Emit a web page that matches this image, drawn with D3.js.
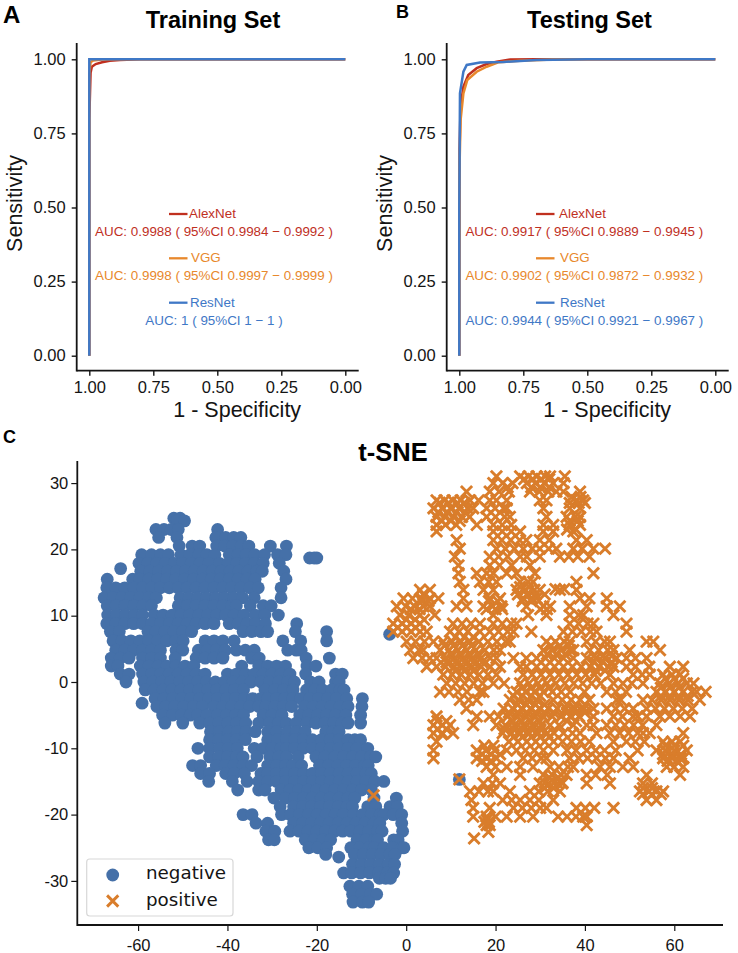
<!DOCTYPE html>
<html><head><meta charset="utf-8">
<script src="https://cdn.jsdelivr.net/npm/d3@7"></script>
<style>html,body{margin:0;background:#fff}svg{display:block}text{font-family:"Liberation Sans",Arial,sans-serif}</style>
</head><body><svg id="c" width="738" height="953"></svg>
<script>
const seriesNames = ["AlexNet","VGG","ResNet"];
const seriesColors = ["#c0301f","#e8882c","#3f78c6"];
const rocTicks = [1,0.75,0.5,0.25,0];
const trainAlex = [[1,0],[1,0.8],[0.995,0.955],[0.99,0.975],[0.975,0.984],[0.95,0.99],[0.92,0.995],[0.88,0.998],[0.8,1],[0,1]];
const trainVgg = [[1,0],[1,0.95],[0.995,0.99],[0.985,0.996],[0.95,0.999],[0.9,1],[0,1]];
const trainRes = [[1,0],[1,1],[0,1]];
const testAlex = [[1,0],[1,0.3],[0.999,0.694],[0.995,0.84],[0.984,0.908],[0.965,0.947],[0.932,0.97],[0.893,0.984],[0.854,0.992],[0.802,0.999],[0.7,1],[0,1]];
const testVgg = [[1,0],[0.999,0.638],[0.995,0.795],[0.984,0.885],[0.969,0.93],[0.932,0.958],[0.893,0.975],[0.848,0.99],[0.763,0.9955],[0.633,0.999],[0.5,1],[0,1]];
const testRes = [[1,0],[1,0.5],[0.9974,0.885],[0.984,0.958],[0.971,0.981],[0.919,0.989],[0.828,0.991],[0.698,0.998],[0.5,1],[0,1]];
const trainAuc = ["AUC: 0.9988 ( 95%CI 0.9984 − 0.9992 )","AUC: 0.9998 ( 95%CI 0.9997 − 0.9999 )","AUC: 1 ( 95%CI 1 − 1 )"];
const testAuc = ["AUC: 0.9917 ( 95%CI 0.9889 − 0.9945 )","AUC: 0.9902 ( 95%CI 0.9872 − 0.9932 )","AUC: 0.9944 ( 95%CI 0.9921 − 0.9967 )"];
const tsneXTicks = [-60,-40,-20,0,20,40,60];
const tsneYTicks = [-30,-20,-10,0,10,20,30];
// t-SNE rows: [y, [x, x, ...]]
const negativeRows = [
[24.7,[-52.0,-50.6]],[24.3,[-51.2,-49.6]],
[23.0,[-56.0,-54.2,-52.6,-51.0,-42.2]],
[21.8,[-55.4,-51.3,-42.6,-40.4,-38.6,-37.0]],
[20.5,[-50.8,-47.9,-46.2,-42.4,-40.6,-38.8,-36.9,-35.2,-30.4,-26.8]],
[19.2,[-59.2,-57.0,-55.0,-53.2,-50.4,-48.4,-46.4,-44.6,-42.8,-39.6,-37.6,-35.8,-33.9,-31.7,-28.8,-26.9]],
[18.7,[-21.6,-20.6,-20.0]],
[17.9,[-59.8,-57.8,-55.8,-53.9,-51.9,-50.0,-48.1,-46.1,-44.2,-41.8,-39.8,-37.9,-35.9,-34.0,-32.0,-28.4]],
[17.1,[-63.9]],
[16.7,[-59.4,-57.4,-55.4,-53.4,-51.4,-49.4,-47.4,-45.4,-43.4,-41.4,-39.4,-37.4,-35.4,-33.4,-32.2,-27.4]],
[15.5,[-66.9,-61.2,-59.6,-57.6,-55.6,-53.6,-51.6,-49.6,-47.6,-45.6,-43.6,-41.6,-39.6,-37.6,-35.6,-33.8,-26.9]],
[14.2,[-67.0,-65.0,-63.0,-61.0,-59.0,-57.0,-55.0,-53.0,-51.0,-49.0,-47.0,-45.0,-43.0,-41.0,-39.0,-37.0,-35.0,-33.1,-28.0]],
[12.7,[-67.6,-65.6,-63.6,-61.6,-59.6,-57.6,-55.9,-50.6,-48.6,-46.6,-44.6,-42.6,-40.6,-38.6,-36.6,-34.0,-28.0]],
[11.5,[-66.9,-64.9,-62.9,-60.9,-58.9,-57.0,-51.0,-49.0,-47.0,-45.0,-43.0,-41.0,-39.0,-38.0,-34.9,-32.0,-30.2]],
[10.1,[-66.8,-64.8,-62.8,-60.8,-59.0,-56.4,-54.4,-52.4,-50.4,-48.4,-46.4,-44.4,-42.4,-40.4,-38.5,-36.3,-33.8,-31.6,-28.6]],
[8.8,[-67.0,-65.0,-63.0,-61.0,-59.0,-57.0,-55.0,-53.0,-51.0,-49.0,-47.0,-45.0,-43.0,-39.6,-37.6,-35.6,-33.7,-31.5,-24.5]],
[7.6,[-66.2,-64.2,-57.8,-56.0,-54.0,-52.0,-50.0,-48.0,-36.5,-34.5,-32.5,-31.0,-24.8,-17.8]],
[6.2,[-65.6,-63.6,-61.6,-59.6,-57.6,-55.6,-53.6,-51.6,-49.9,-45.0,-43.0,-41.0,-38.5,-27.6,-23.6,-17.8]],
[4.8,[-65.0,-63.0,-61.0,-59.0,-57.0,-55.0,-51.5,-50.0,-46.5,-44.5,-42.5,-40.5,-38.0,-36.0,-34.0,-26.5,-24.6,-23.5]],
[3.6,[-66.0,-64.0,-62.0,-59.0,-57.0,-55.0,-51.7,-47.0,-45.0,-43.0,-41.0,-34.6,-32.9,-22.4,-17.2]],
[2.4,[-66.0,-64.5,-59.5,-57.5,-55.5,-53.5,-51.5,-49.5,-47.5,-36.8,-33.0,-31.0,-29.0,-27.0,-22.2,-20.2]],
[1.2,[-64.0,-62.0,-59.0,-57.0,-55.0,-53.0,-51.0,-49.0,-47.0,-45.0,-40.0,-38.0,-36.0,-34.0,-32.0,-30.0,-28.0,-26.0,-22.5,-15.8,-14.3]],
[0.0,[-62.7,-58.7,-56.7,-54.7,-52.7,-50.7,-48.7,-46.7,-44.7,-42.7,-40.7,-38.7,-36.7,-34.7,-32.5,-30.5,-28.5,-26.5,-25.0,-21.4,-19.5,-15.8,-15.0]],
[-1.2,[-58.4,-56.4,-54.4,-52.4,-50.4,-48.4,-46.4,-44.4,-42.4,-40.4,-38.4,-36.4,-31.6,-29.4,-27.4,-25.3,-22.3,-20.4,-18.7,-16.7,-14.8,-13.9]],
[-2.5,[-56.2,-54.2,-52.2,-50.2,-48.2,-46.2,-44.2,-42.2,-40.2,-38.2,-36.2,-34.4,-32.6,-31.0,-29.0,-27.2,-25.4,-23.6,-21.6,-19.6,-17.6,-15.6,-13.3,-9.8]],
[-3.2,[-59.1]],
[-3.7,[-55.8,-53.8,-51.8,-49.8,-47.6,-45.6,-43.0,-41.0,-39.0,-37.0,-35.0,-33.0,-31.4,-29.4,-27.5,-25.6,-22.8,-20.8,-18.8,-16.8,-14.8,-13.0,-9.9]],
[-5.0,[-54.5,-52.3,-50.3,-48.3,-46.6,-44.6,-42.2,-40.2,-38.2,-36.4,-32.0,-30.0,-27.8,-23.8,-21.8,-19.8,-17.8,-15.8,-13.5,-10.2]],
[-6.2,[-54.0,-50.0,-46.2,-44.0,-41.9,-39.9,-37.9,-35.9,-33.0,-30.6,-28.6,-26.8,-24.6,-22.2,-20.2,-18.2,-16.2,-14.4,-13.0,-10.2]],
[-7.5,[-43.8,-41.8,-39.8,-37.8,-35.8,-33.8,-31.0,-29.0,-26.6,-24.6,-22.6,-18.0,-16.4,-15.0]],
[-8.7,[-44.0,-42.0,-40.0,-38.0,-36.0,-31.0,-28.8,-26.8,-25.0,-23.0,-21.0,-19.0,-17.0,-15.0,-13.0,-11.5,-10.2]],
[-10.0,[-46.6,-44.0,-41.8,-39.8,-37.8,-34.0,-32.0,-30.0,-28.0,-26.8,-25.0,-23.0,-21.0,-19.0,-17.0,-15.0,-13.0,-11.0,-8.6]],
[-11.3,[-44.0,-42.0,-40.0,-38.0,-36.5,-33.4,-30.5,-28.5,-26.8,-24.2,-20.2,-18.2,-16.0,-14.0,-12.0,-10.0,-8.0,-6.8]],
[-12.6,[-47.8,-46.0,-42.5,-40.5,-38.5,-36.5,-34.6,-31.0,-29.0,-27.0,-25.4,-23.4,-19.4,-17.4,-15.3,-13.3,-11.3,-9.3,-8.5]],
[-13.8,[-46.0,-44.0,-40.4,-38.5,-36.2,-32.5,-31.0,-29.0,-27.0,-25.0,-23.0,-21.0,-19.0,-17.0,-15.0,-13.0,-11.0,-9.0,-7.8]],
[-15.0,[-44.2,-38.9,-35.6,-33.0,-31.0,-29.0,-27.0,-25.0,-23.0,-21.0,-19.0,-17.0,-15.0,-13.0,-11.0,-9.0,-7.0,-5.0]],
[-16.3,[-37.7,-33.0,-31.6,-28.0,-26.0,-24.0,-22.0,-20.0,-18.0,-16.0,-14.0,-12.0,-10.0,-7.8]],
[-17.5,[-29.6,-27.0,-25.0,-23.0,-21.0,-19.0,-17.0,-15.0,-13.0,-11.5,-7.2,-2.2]],
[-18.8,[-28.2,-25.2,-23.2,-21.2,-19.2,-17.2,-15.2,-13.2,-12.0,-8.6,-6.8,-3.6,-2.0]],
[-20.0,[-36.5,-34.5,-27.9,-25.9,-23.9,-21.9,-19.9,-17.9,-15.9,-14.1,-11.8,-9.8,-7.8,-5.8,-5.0,-2.9,-1.0]],
[-21.3,[-33.6,-31.0,-25.2,-23.2,-21.2,-19.2,-17.2,-15.2,-13.2,-11.2,-9.2,-7.2,-5.9,-1.0]],
[-22.5,[-31.4,-29.4,-26.0,-24.0,-22.0,-20.0,-18.0,-16.0,-14.2,-12.4,-10.4,-8.4,-6.4,-5.4,-0.8]],
[-23.8,[-30.8,-29.5,-22.6,-20.6,-18.6,-16.9,-11.0,-9.0,-7.0,-6.4,-2.8,-1.8]],
[-25.0,[-21.8,-19.8,-17.8,-12.4,-10.4,-8.4,-7.2,-5.0,-3.0,-1.0,-0.5]],
[-26.0,[-18.0,-11.6,-9.6,-7.6,-5.6,-3.6,-2.5]],
[-26.4,[-15.1]],
[-27.5,[-12.0,-10.0,-8.0,-6.0,-4.0,-2.6]],
[-28.8,[-14.0,-12.2,-10.2,-8.2,-6.2,-4.2,-2.8]],
[-29.6,[-6.0,-4.6,-3.5]],
[-30.8,[-12.6,-10.6,-8.6]],
[-32.0,[-12.0,-10.0,-8.0,-6.6]],
[-33.2,[-11.9,-9.8,-8.4]],
[7.2,[-3.7]],[-14.7,[11.9]]
];
const positiveRows = [
[31.0,[20.2,25.5,27.4,29.2,31.1,32.2,35.5]],
[30.0,[19.5,21.6,23.8,27.0,29.0,31.0,32.9,35.2]],
[28.7,[13.5,18.7,20.8,23.0,27.7,29.8,31.8,33.6,35.2,38.9]],
[27.4,[6.8,8.6,10.4,12.2,14.3,16.2,18.7,20.2,22.5,29.9,31.4,38.1,39.6]],
[26.2,[6.1,8.0,9.9,11.8,13.7,15.0,18.0,19.9,21.8,22.5,30.7,36.6,38.9]],
[24.9,[6.8,8.7,10.6,12.5,14.2,18.0,20.0,22.0,23.2,31.4,35.9,37.9,38.9]],
[23.7,[6.8,8.8,11.2,15.8,19.5,21.5,23.5,30.7,32.9,36.6,38.9]],
[22.7,[6.8,19.5,21.5,23.5,25.5,30.7,32.9,37.4]],
[21.4,[11.3,19.5,21.4,23.4,25.4,26.9,29.9,32.0,38.1,40.4]],
[20.1,[12.0,20.2,22.2,24.2,26.2,28.2,29.9,31.9,33.6,37.4,39.4,41.9,44.5]],
[18.9,[10.9,18.7,20.7,22.7,25.5,27.0,29.9,34.4,36.4,38.4,41.0]],
[17.6,[11.7,18.7,20.9,23.6,27.7]],
[16.4,[11.7,15.8,18.0,19.5,22.5,24.7,28.8,41.9]],
[15.1,[12.0,16.5,18.5,20.2,25.5,27.3,28.4,38.1]],
[13.9,[3.1,5.3,12.8,17.3,19.5,24.7,26.7,28.7,29.9,34.4,38.1]],
[12.6,[-0.6,1.4,3.4,5.3,7.2,12.8,18.7,21.0,26.2,28.2,29.2,38.9,41.0,44.9]],
[11.4,[-2.1,-0.1,1.9,3.9,5.3,11.3,13.5,17.3,19.3,21.3,26.9,30.7,32.2,36.6,40.4,44.9,47.8]],
[10.1,[-1.4,0.6,3.1,6.4,19.5,27.3,31.4,36.6,38.6,39.6,46.4]],
[8.8,[-2.9,-0.9,1.1,3.1,10.5,12.5,14.5,16.5,19.5,21.5,23.5,24.7,36.6,38.6,40.6,41.9,49.3]],
[7.6,[-2.9,-0.9,1.1,3.1,4.6,9.8,11.8,13.8,16.5,18.7,20.7,22.7,24.0,28.0,35.2,37.2,39.2,41.2,42.6,49.3]],
[6.1,[0.1,2.1,4.1,6.1,8.3,10.3,12.3,14.3,16.3,18.3,20.3,22.3,23.2,31.4,33.4,35.4,36.6,40.4,42.4,44.4,45.6,53.8,55.3]],
[4.8,[0.9,2.9,3.8,7.6,9.6,11.6,13.6,15.6,17.6,19.6,21.0,30.7,32.7,34.7,36.7,37.4,41.1,43.1,45.1,46.4,50.0,56.8]],
[3.6,[1.6,3.6,5.3,6.8,8.8,10.8,12.8,14.8,16.8,18.8,20.2,24.0,26.9,29.2,31.2,33.2,35.2,37.4,40.4,42.4,44.4,47.1,49.3,51.3,53.8]],
[2.3,[4.6,6.8,8.8,10.8,12.8,14.8,16.8,18.8,21.0,25.5,26.9,29.2,31.2,33.2,35.2,37.2,39.2,41.2,43.2,45.2,46.4,49.3,51.3,54.4,59.0,62.0]],
[1.1,[8.3,10.3,12.3,14.3,16.3,18.3,20.2,26.2,28.2,30.2,32.2,34.2,36.2,38.2,40.2,42.2,45.6,50.8,52.8,54.5,57.5,59.5,61.3]],
[-0.2,[9.1,11.1,13.1,15.1,17.1,19.5,21.9,25.5,27.5,29.5,31.5,33.5,35.5,37.5,39.5,41.5,43.5,46.4,48.5,50.5,53.0,56.8,58.8,60.8,62.8,64.3]],
[-1.5,[7.6,9.6,11.6,13.6,16.5,17.3,24.7,26.7,28.7,30.7,32.7,34.7,36.7,39.9,44.9,46.9,49.2,56.0,58.0,60.0,62.0,64.0,65.0,67.0]],
[-2.7,[12.0,14.0,15.8,23.2,25.2,27.2,29.2,32.9,34.9,36.9,38.9,41.0,47.1,48.0,53.0,55.0,57.0,59.0,61.0,63.0,65.7]],
[-4.0,[13.5,21.8,23.8,25.8,27.8,29.8,31.8,33.8,35.8,37.8,39.8,41.9,44.9,46.9,48.9,50.8,53.8,55.8,57.8,59.8,61.8,64.0]],
[-5.2,[6.8,15.8,18.7,20.7,22.7,24.7,26.7,28.7,30.7,32.7,34.7,36.7,38.7,41.9,46.4,48.4,50.8,51.8,53.8,56.8,59.0,61.3,63.5]],
[-6.5,[6.1,8.1,9.8,15.0,20.2,22.2,24.2,26.2,28.2,30.2,32.2,34.2,37.4,40.4,41.9,44.9,46.9,48.9,50.9,52.9,56.0]],
[-7.7,[6.1,8.1,10.5,21.6,23.6,25.6,27.6,29.6,31.6,33.1,35.2,37.2,38.9,42.6,45.6,47.8,49.8,51.8,53.0,54.5,62.0]],
[-9.0,[6.8,23.0,25.0,27.0,29.0,31.0,33.0,35.0,37.0,39.0,41.0,46.4,49.3,51.3,53.3,57.5,59.5,61.3]],
[-10.3,[6.1,15.8,17.8,19.8,22.5,24.7,26.7,28.7,30.7,32.9,36.0,38.0,40.4,42.4,44.4,46.9,51.8,56.0,58.0,60.0,62.8]],
[-11.5,[6.1,15.8,18.0,20.2,26.2,28.2,30.2,31.4,36.6,38.6,40.6,42.6,44.6,46.4,50.0,57.5,59.5,61.3,62.0]],
[-12.8,[18.0,20.0,22.5,25.5,28.4,32.2,34.2,36.2,37.4,43.4,45.6,48.5,50.8,58.3,60.0,62.0]],
[-14.0,[19.5,25.5,30.7,32.7,34.7,35.9,40.4,42.4,45.0,53.8,61.3]],
[-15.3,[17.3,19.3,21.0,29.9,31.9,33.9,34.9,40.4,45.6,53.0,55.0]],
[-16.5,[14.3,16.3,18.3,19.5,23.2,27.7,29.7,31.7,34.4,52.3,54.3,56.0,57.5]],
[-17.8,[14.6,21.6,23.6,25.5,27.7,29.7,32.9,53.8,56.0]],
[-19.0,[15.0,18.7,24.0,26.0,28.0,30.0,31.4,38.1,40.1,42.1,46.4]],
[-20.3,[15.0,18.0,20.0,22.5,25.5,28.4,34.0,36.0,38.0,39.6,40.4]],
[-21.6,[18.0,18.7,40.4]],
[-22.6,[18.4]],
[-23.6,[15.2]],
[-17.1,[-7.3]],[-14.7,[11.9]]
];
const positiveDenseRows = [
[30.6,[26.4,28.3,30.2,32.0]],[29.4,[22.7,28.0,30.0,32.0]],[27.9,[37.0,39.0]],
[27.0,[7.5,9.5,11.5,13.0,36.6,38.6,40.0]],[25.6,[7.2,9.2,11.2,13.2]],[24.3,[8.0,10.0,12.0,36.6,38.4]],[23.0,[36.0,38.0]],
[14.3,[25.5,27.5]],[14.0,[33.4,35.4]],[13.2,[25.0,27.0,29.0,31.0,3.8]],[12.2,[18.5,20.5,26.0,28.0,3.5,5.0]],
[11.0,[1.0,3.0,18.0,20.0,21.5,30.0,31.5]],[9.4,[0.0,2.0,4.0]],[8.2,[-1.9,0.1,2.1]],
[6.8,[11.0,13.0,15.0]],[5.5,[8.6,10.6,12.6,14.6,32.4,34.4,36.4]],[4.2,[10.0,12.0,14.0,16.0,31.5,33.5,35.5]],
[3.9,[42.0,44.0,46.0]],[3.0,[9.0,11.0,13.0,15.0,17.0,42.0,44.0,46.0]],[1.7,[11.0,13.0,15.0,42.5,44.5]],
[0.5,[58.0,60.0,62.0]],[-0.9,[26.0,28.0,30.0,32.0,57.0,59.0,61.0]],[-2.1,[24.0,26.0,28.0,30.0,57.0,59.0,61.0,63.0]],
[-3.4,[25.0,27.0,29.0,31.0,36.0,38.0,40.0]],[-4.6,[23.0,25.0,27.0,29.0,31.0,33.0,36.0,38.0,40.0]],
[-5.9,[24.0,26.0,28.0,30.0,36.0,38.0,7.0,9.0]],[-7.1,[22.0,24.0,26.0,28.0,30.0,7.0,9.0]],[-7.9,[8.0]],[-8.3,[24.0,26.0,28.0,30.0,32.0]],
[-9.6,[17.5,19.5,58.0,60.0,62.0]],[-10.9,[17.0,19.0,21.0,57.5,59.5,61.5]],[-11.9,[17.0,19.0,58.5,60.5]],
[-14.4,[32.0,34.0]],[-15.2,[31.0,33.0,35.0]],[-16.0,[31.0,33.0,53.0,55.0]],[-16.9,[53.0,55.0,57.0]],
[-20.8,[18.0]],[-21.1,[17.5,18.5]]
];
const negative = negativeRows.flatMap(([y,xs]) => xs.map(x => [x,y]));
const positive = positiveRows.concat(positiveDenseRows).flatMap(([y,xs]) => xs.map(x => [x,y]));
const legendNames = ["negative","positive"];
const tsneBlue = "#4570a8", tsneOrange = "#d97d2b", ink = "#141414";

const svg = d3.select("#c");

function roc(x0, title, titleX, series, auc, keyX, nameX, aucX, letter, letterX, letterY, letterSize){
  const x = d3.scaleLinear().domain([1,0]).range([x0+12.6, x0+268.6]);
  const y = d3.scaleLinear().domain([0,1]).range([355.7,59.3]);
  const g = svg.append("g");
  const xAxis = g.append("g").attr("transform","translate(0,370.7)")
    .call(d3.axisBottom(x).tickValues(rocTicks).tickFormat(d3.format(".2f")).tickSize(5).tickPadding(6));
  const yAxis = g.append("g").attr("transform",`translate(${x0},0)`)
    .call(d3.axisLeft(y).tickValues(rocTicks).tickFormat(d3.format(".2f")).tickSize(5).tickPadding(6));
  xAxis.select(".domain").remove(); yAxis.select(".domain").remove();
  g.append("line").attr("x1",x0).attr("x2",x0+282).attr("y1",370.7).attr("y2",370.7).attr("stroke",ink).attr("stroke-width",1.8);
  g.append("line").attr("x1",x0).attr("x2",x0).attr("y1",43).attr("y2",371.5).attr("stroke",ink).attr("stroke-width",1.8);
  g.selectAll(".tick line").attr("stroke",ink).attr("stroke-width",1.4);
  g.selectAll(".tick text").attr("fill",ink).style("font-size","16.5px").style("font-family","Liberation Sans");
  const line = d3.line().x(d=>x(d[0])).y(d=>y(d[1]));
  series.forEach((s,i)=>g.append("path").attr("d",line(s)).attr("fill","none").attr("stroke",seriesColors[i]).attr("stroke-width",2.5));
  const keyY=[214,258.3,302.7], nameY=[218,262,306.7], aucY=[236,280,324.5];
  seriesNames.forEach((n,i)=>{
    g.append("line").attr("x1",keyX).attr("x2",keyX+18.5).attr("y1",keyY[i]).attr("y2",keyY[i]).attr("stroke",seriesColors[i]).attr("stroke-width",2.3);
    g.append("text").attr("x",nameX[i]).attr("y",nameY[i]).attr("fill",seriesColors[i]).style("font-size","13.4px").text(n);
    g.append("text").attr("x",aucX).attr("y",aucY[i]).attr("text-anchor","middle").attr("fill",seriesColors[i]).style("font-size","13.4px").text(auc[i]);
  });
  g.append("text").attr("x",titleX).attr("y",28).attr("text-anchor","middle").attr("fill","#000").style("font-size","23.5px").style("font-weight","bold").text(title);
  g.append("text").attr("transform",`translate(${x0-55},203.5) rotate(-90)`).attr("y",0).attr("text-anchor","middle").attr("fill",ink).style("font-size","21.5px").text("Sensitivity");
  g.append("text").attr("x",x0+160.5).attr("y",417).attr("text-anchor","middle").attr("fill",ink).style("font-size","21.5px").text("1 - Specificity");
  g.append("text").attr("x",letterX).attr("y",letterY).attr("fill","#000").style("font-size",letterSize+"px").style("font-weight","bold").text(letter);
}
roc(76.7,"Training Set",213,[trainAlex,trainVgg,trainRes],trainAuc,169,[189,191,190],214,"A",3,23,24);
roc(446.7,"Testing Set",589.5,[testAlex,testVgg,testRes],testAuc,536,[559,560,560],584.3,"B",396,18,18);

// t-SNE
const tx = d3.scaleLinear().domain([-73.6,70.9]).range([77.3,723]);
const ty = d3.scaleLinear().domain([-36.65,33.33]).range([925,461]);
const t = svg.append("g");
t.selectAll("circle.neg").data(negative).join("circle").attr("class","neg").attr("cx",d=>tx(d[0])).attr("cy",d=>ty(d[1])).attr("r",6.4).attr("fill",tsneBlue);
const timesPath = d3.symbol().type(d3.symbolTimes).size(84)();
t.selectAll("path.pos").data(positive).join("path").attr("class","pos").attr("d",timesPath)
  .attr("transform",d=>`translate(${tx(d[0])},${ty(d[1])})`).attr("fill","none").attr("stroke",tsneOrange).attr("stroke-width",2.9);
const intLabel = d => String(d);
const bx = t.append("g").attr("transform","translate(0,925)").call(d3.axisBottom(tx).tickValues(tsneXTicks).tickFormat(intLabel).tickSize(6).tickPadding(8));
const ly = t.append("g").attr("transform","translate(77.3,0)").call(d3.axisLeft(ty).tickValues(tsneYTicks).tickFormat(intLabel).tickSize(6).tickPadding(3));
bx.select(".domain").remove(); ly.select(".domain").remove();
t.selectAll(".tick line").attr("stroke",ink).attr("stroke-width",1.2);
t.selectAll(".tick text").attr("fill",ink).style("font-size","16.5px").style("font-family","Liberation Sans");
t.append("line").attr("x1",77.3).attr("x2",723).attr("y1",925).attr("y2",925).attr("stroke",ink).attr("stroke-width",1.8);
t.append("line").attr("x1",77.3).attr("x2",77.3).attr("y1",461).attr("y2",926).attr("stroke",ink).attr("stroke-width",1.8);
t.append("rect").attr("x",86.7).attr("y",859).attr("width",146.3).attr("height",57).attr("rx",3).attr("fill","#fff").attr("fill-opacity",0.85).attr("stroke","#d8d8d8").attr("stroke-width",1.2);
t.append("circle").attr("cx",112.7).attr("cy",875).attr("r",6.4).attr("fill",tsneBlue);
t.append("path").attr("d",timesPath).attr("transform","translate(112.7,901)").attr("fill","none").attr("stroke",tsneOrange).attr("stroke-width",2.9);
legendNames.forEach((n,i)=>t.append("text").attr("x",146).attr("y",[879,905.5][i]).attr("fill",ink).style("font-family","DejaVu Sans").style("font-size","18.3px").text(n));
t.append("text").attr("x",393).attr("y",460.5).attr("text-anchor","middle").attr("fill","#000").style("font-size","25.5px").style("font-weight","bold").text("t-SNE");
t.append("text").attr("x",3).attr("y",443).attr("fill","#000").style("font-size","18px").style("font-weight","bold").text("C");
</script></body></html>
